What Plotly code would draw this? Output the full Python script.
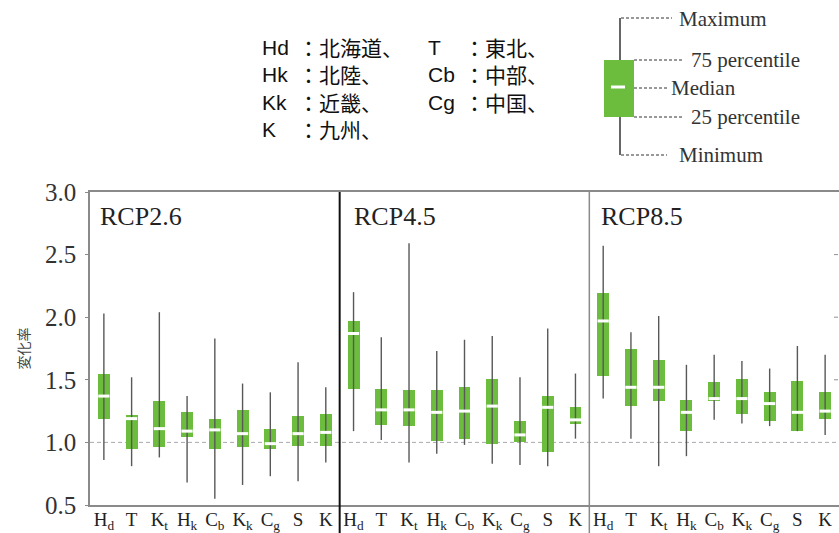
import plotly.graph_objects as go

# ---------------- data ----------------
regions = ["H<sub>d</sub>", "T", "K<sub>t</sub>", "H<sub>k</sub>", "C<sub>b</sub>",
           "K<sub>k</sub>", "C<sub>g</sub>", "S", "K"]
scenarios = ["RCP2.6", "RCP4.5", "RCP8.5"]

rcp26_min = [0.86, 0.81, 0.88, 0.68, 0.55, 0.66, 0.73, 0.69, 0.84]
rcp26_q1 = [1.19, 0.95, 0.96, 1.04, 0.95, 0.96, 0.95, 0.97, 0.97]
rcp26_med = [1.37, 1.19, 1.11, 1.09, 1.10, 1.07, 0.99, 1.07, 1.08]
rcp26_q3 = [1.55, 1.22, 1.33, 1.24, 1.19, 1.26, 1.11, 1.21, 1.23]
rcp26_max = [2.03, 1.52, 2.04, 1.37, 1.83, 1.47, 1.40, 1.64, 1.44]

rcp45_min = [1.09, 1.02, 0.84, 0.91, 0.98, 0.83, 0.82, 0.81, 1.03]
rcp45_q1 = [1.43, 1.14, 1.13, 1.01, 1.03, 0.99, 1.00, 0.92, 1.15]
rcp45_med = [1.87, 1.26, 1.26, 1.24, 1.25, 1.29, 1.06, 1.28, 1.18]
rcp45_q3 = [1.97, 1.43, 1.42, 1.42, 1.44, 1.51, 1.17, 1.37, 1.28]
rcp45_max = [2.20, 1.84, 2.59, 1.73, 1.82, 1.85, 1.52, 1.91, 1.55]

rcp85_min = [1.35, 1.03, 0.81, 0.89, 1.18, 1.15, 1.13, 1.09, 1.06]
rcp85_q1 = [1.53, 1.29, 1.33, 1.09, 1.33, 1.23, 1.17, 1.09, 1.19]
rcp85_med = [1.97, 1.44, 1.44, 1.24, 1.35, 1.35, 1.31, 1.24, 1.25]
rcp85_q3 = [2.19, 1.75, 1.66, 1.34, 1.48, 1.51, 1.40, 1.49, 1.40]
rcp85_max = [2.57, 1.88, 2.01, 1.62, 1.70, 1.65, 1.59, 1.77, 1.70]

y_ticks = [0.5, 1.0, 1.5, 2.0, 2.5, 3.0]
y_tick_text = ["0.5", "1.0", "1.5", "2.0", "2.5", "3.0"]

legend_labels = ["Maximum", "75 percentile", "Median", "25 percentile", "Minimum"]
key_left = ["Hd", "Hk", "Kk", "K"]
key_left_name = ["：北海道、", "：北陸、", "：近畿、", "：九州、"]
key_right = ["T", "Cb", "Cg"]
key_right_name = ["：東北、", "：中部、", "：中国、"]

stats = [
    (rcp26_min, rcp26_q1, rcp26_med, rcp26_q3, rcp26_max),
    (rcp45_min, rcp45_q1, rcp45_med, rcp45_q3, rcp45_max),
    (rcp85_min, rcp85_q1, rcp85_med, rcp85_q3, rcp85_max),
]

GREEN = "#6cbd3e"
SERIF = "Liberation Serif"
GOTHIC = "Liberation Sans, Noto Sans CJK JP"
CJK = "Noto Sans CJK JP"

# ---------------- layout geometry helpers ----------------
W, H = 839, 533
L, R, T, B = 90, 839, 192, 505
def px(xp):
    return (xp - L) / (R - L)
def py(yp):
    return (B - yp) / (B - T)

n = len(regions)
fig = go.Figure()

xs_all, lo_all, hi_all, q1_all, iqr_all, med_all = [], [], [], [], [], []
for k, (mn, q1, md, q3, mx) in enumerate(stats):
    for i in range(n):
        x = k * n + i
        xs_all.append(x)
        lo_all.append(mn[i]); hi_all.append(mx[i])
        q1_all.append(q1[i]); iqr_all.append(q3[i] - q1[i]); med_all.append(md[i])

# whiskers
wx, wy = [], []
for x, lo, hi in zip(xs_all, lo_all, hi_all):
    wx += [x, x, None]
    wy += [lo, hi, None]
fig.add_trace(go.Scatter(x=wx, y=wy, mode="lines",
                         line=dict(color="#585858", width=1.4),
                         hoverinfo="skip", showlegend=False))
# boxes
fig.add_trace(go.Bar(x=xs_all, y=iqr_all, base=q1_all, width=0.43,
                     marker=dict(color=GREEN, line=dict(width=0)),
                     showlegend=False))
# medians
fig.add_trace(go.Scatter(x=xs_all, y=med_all, mode="markers",
                         marker=dict(symbol="line-ew", size=8,
                                     line=dict(color="white", width=3)),
                         showlegend=False))

shapes = []
# reference line at 1.0
shapes.append(dict(type="line", xref="paper", yref="y", x0=0, x1=1, y0=1.0, y1=1.0,
                   line=dict(color="#a9a9b0", width=1, dash="4px,3px"), layer="below"))
# panel separators
shapes.append(dict(type="line", xref="x", yref="paper", x0=n - 0.5, x1=n - 0.5,
                   y0=py(H), y1=1, line=dict(color="#111111", width=2)))
shapes.append(dict(type="line", xref="x", yref="paper", x0=2 * n - 0.5, x1=2 * n - 0.5,
                   y0=py(H), y1=1, line=dict(color="#8a8a8a", width=1.5)))
# partial ticks of the cropped next panel at the right edge
for v in [1.5, 2.0, 2.5]:
    shapes.append(dict(type="line", xref="paper", yref="y", x0=px(834), x1=px(838),
                       y0=v, y1=v, line=dict(color="#909090", width=1)))

# ---- schematic key (top right) ----
kc = "#333333"
shapes.append(dict(type="line", xref="paper", yref="paper", x0=px(620), x1=px(620),
                   y0=py(18), y1=py(155), line=dict(color=kc, width=1.5)))
shapes.append(dict(type="rect", xref="paper", yref="paper", x0=px(604), x1=px(634),
                   y0=py(117), y1=py(60), fillcolor=GREEN, line=dict(width=0)))
shapes.append(dict(type="line", xref="paper", yref="paper", x0=px(611), x1=px(625),
                   y0=py(87), y1=py(87), line=dict(color="white", width=3)))
leaders = [(621, 672, 18), (634, 683, 60), (634, 668, 88), (634, 683, 117), (621, 667, 155)]
for x0, x1, yy in leaders:
    shapes.append(dict(type="line", xref="paper", yref="paper", x0=px(x0), x1=px(x1),
                       y0=py(yy), y1=py(yy), line=dict(color=kc, width=1, dash="3px,2px")))

annotations = []
label_pos = [(677, 19), (689, 60), (669, 88), (689, 117), (677, 155)]
for (lx, ly), txt in zip(label_pos, legend_labels):
    annotations.append(dict(xref="paper", yref="paper", x=px(lx), y=py(ly), text=txt,
                            showarrow=False, xanchor="left", yanchor="middle",
                            font=dict(family=SERIF, size=21, color=kc)))

# ---- region key text (four aligned columns) ----
hdr_font = 21
def column(xp, yp_top, lines, fam):
    return dict(xref="paper", yref="paper", x=px(xp), y=py(yp_top), text="<br>".join(lines),
                showarrow=False, xanchor="left", yanchor="top", align="left", borderpad=0,
                font=dict(family=fam, size=hdr_font, color="#111111"))
top_latin = 48 - 0.65 * hdr_font + 1
top_cjk = top_latin - 4
annotations.append(column(261, top_latin, key_left, GOTHIC))
annotations.append(column(297, top_cjk, key_left_name, CJK))
annotations.append(column(427, top_latin, key_right, GOTHIC))
annotations.append(column(463, top_cjk, key_right_name, CJK))

# ---- panel titles ----
for xl, s in zip([98, 352, 599], scenarios):
    annotations.append(dict(xref="paper", yref="paper", x=px(xl), y=py(216), text=s,
                            showarrow=False, xanchor="left", yanchor="middle",
                            font=dict(family=SERIF, size=26, color="#222222")))

# ---- y axis title ----
annotations.append(dict(xref="paper", yref="paper", x=px(22), y=0.5, text="変化率",
                        textangle=-90, showarrow=False, xanchor="center", yanchor="middle",
                        font=dict(family=CJK, size=14, color="#444444")))

fig.update_layout(
    width=W, height=H,
    margin=dict(l=L, r=W - R, t=T, b=H - B, pad=0, autoexpand=False),
    paper_bgcolor="white", plot_bgcolor="white",
    showlegend=False,
    bargap=0,
    shapes=shapes, annotations=annotations,
    xaxis=dict(range=[-0.5, 3 * n - 0.5], automargin=False,
               tickmode="array", tickvals=list(range(3 * n)), ticktext=regions * 3,
               showgrid=False, zeroline=False, ticks="",
               showline=True, linecolor="#8a8a8a", linewidth=1.5, mirror=True,
               ticklabelstandoff=-4,
               tickfont=dict(family=SERIF, size=19, color="#222222")),
    yaxis=dict(range=[0.5, 3.0], automargin=False,
               tickmode="array", tickvals=y_ticks, ticktext=y_tick_text,
               showgrid=False, zeroline=False,
               ticks="outside", ticklen=3, tickcolor="#8a8a8a", tickwidth=1,
               ticklabelstandoff=4,
               showline=True, linecolor="#8a8a8a", linewidth=1.5,
               tickfont=dict(family=SERIF, size=25, color="#333333")),
)

fig.write_html("out.html", config={"displayModeBar": False},
               post_script="document.body.style.margin='0px';document.body.style.padding='0px';")
